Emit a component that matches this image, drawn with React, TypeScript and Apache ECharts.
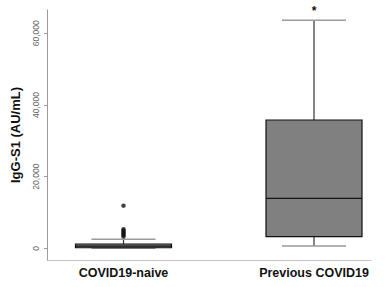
import React, { useEffect, useRef } from "react";
import * as echarts from "echarts";

const categories = ["COVID19-naive", "Previous COVID19"];
const lowerWhisker = [0, 640];
const q1 = [150, 3240];
const median = [600, 13950];
const q3 = [1200, 35800];
const upperWhisker = [2500, 63660];
const outlierCategory = [0, 0, 0, 0, 0, 0, 0];
const outlierValues = [11900, 5300, 4900, 4500, 4100, 3700, 3300];
const significance = ["", "*"];
const yTicks = [0, 20000, 40000, 60000];

export default function App() {
  const ref = useRef<HTMLDivElement>(null);
  useEffect(() => {
    if (!ref.current) return;
    const chart = echarts.init(ref.current, null, { renderer: "svg" });
    const boxData = categories.map((_, i) => [
      i + 1,
      lowerWhisker[i],
      q1[i],
      median[i],
      q3[i],
      upperWhisker[i],
    ]);
    const outlierData = outlierValues.map((v, i) => [outlierCategory[i] + 1, v]);
    const halfBox = 0.252;
    const halfCap = 0.168;
    chart.setOption({
      animation: false,
      grid: { left: 47, right: 21, top: 10, bottom: 27 },
      xAxis: {
        type: "value",
        min: 0.5984,
        max: 2.2992,
        splitLine: { show: false },
        axisLine: { show: true, onZero: false, lineStyle: { color: "#c4c4c4", width: 1 } },
        axisTick: { show: false },
        axisLabel: {
          customValues: [1, 2],
          formatter: (v: number) => categories[Math.round(v) - 1] ?? "",
          color: "#111",
          fontFamily: "Liberation Sans, Arial, sans-serif",
          fontWeight: "bold",
          fontSize: 12.5,
          margin: 6,
        },
      },
      yAxis: {
        type: "value",
        min: -3265,
        max: 66500,
        name: "IgG-S1 (AU/mL)",
        nameLocation: "middle",
        nameGap: 25,
        nameTextStyle: {
          color: "#111",
          fontFamily: "Liberation Sans, Arial, sans-serif",
          fontWeight: "bold",
          fontSize: 13,
        },
        splitLine: { show: false },
        axisLine: { show: true, onZero: false, lineStyle: { color: "#9a9a9a", width: 1 } },
        axisTick: { show: true, length: 3, customValues: yTicks, lineStyle: { color: "#9a9a9a" } },
        axisLabel: {
          customValues: yTicks,
          rotate: 90,
          margin: 7,
          color: "#666",
          fontFamily: "Liberation Sans, Arial, sans-serif",
          fontSize: 8.5,
          formatter: (v: number) => v.toLocaleString("en-US"),
        },
      },
      series: [
        {
          type: "custom",
          data: boxData,
          renderItem: (params: any, api: any) => {
            const x = api.value(0);
            const lo = api.value(1);
            const b1 = api.value(2);
            const md = api.value(3);
            const b3 = api.value(4);
            const hi = api.value(5);
            const pLo = api.coord([x, lo]);
            const pHi = api.coord([x, hi]);
            const pQ1 = api.coord([x - halfBox, b1]);
            const pQ3 = api.coord([x + halfBox, b3]);
            const pMdL = api.coord([x - halfBox, md]);
            const pMdR = api.coord([x + halfBox, md]);
            const capL = api.coord([x - halfCap, hi])[0];
            const capR = api.coord([x + halfCap, hi])[0];
            const label = significance[params.dataIndex];
            const children: any[] = [
              {
                type: "line",
                shape: { x1: pLo[0], y1: pLo[1], x2: pHi[0], y2: pHi[1] },
                style: { stroke: "#333", lineWidth: 1.2 },
              },
              {
                type: "line",
                shape: { x1: capL, y1: pHi[1], x2: capR, y2: pHi[1] },
                style: { stroke: "#9a9a9a", lineWidth: 1.5 },
              },
              {
                type: "line",
                shape: { x1: capL, y1: pLo[1], x2: capR, y2: pLo[1] },
                style: { stroke: "#9a9a9a", lineWidth: 1.5 },
              },
              {
                type: "rect",
                shape: {
                  x: pQ1[0],
                  y: pQ3[1],
                  width: pQ3[0] - pQ1[0],
                  height: Math.max(pQ1[1] - pQ3[1], 1),
                },
                style: { fill: "#808080", stroke: "#111", lineWidth: 1.2 },
              },
              {
                type: "line",
                shape: { x1: pMdL[0], y1: pMdL[1], x2: pMdR[0], y2: pMdR[1] },
                style: { stroke: "#111", lineWidth: 1.2 },
              },
            ];
            if (label) {
              children.push({
                type: "text",
                x: pHi[0],
                y: pHi[1] - 9,
                style: {
                  text: label,
                  fill: "#111",
                  font: "bold 12px Liberation Sans, Arial, sans-serif",
                  align: "center",
                  verticalAlign: "middle",
                },
              });
            }
            return { type: "group", children };
          },
          z: 2,
        },
        {
          type: "scatter",
          data: outlierData,
          symbol: "circle",
          symbolSize: 4.5,
          itemStyle: { color: "#111" },
          z: 3,
        },
      ],
    });
    return () => chart.dispose();
  }, []);
  return (
    <div
      ref={ref}
      style={{ position: "absolute", left: 0, top: 0, width: 392, height: 287 }}
    />
  );
}
